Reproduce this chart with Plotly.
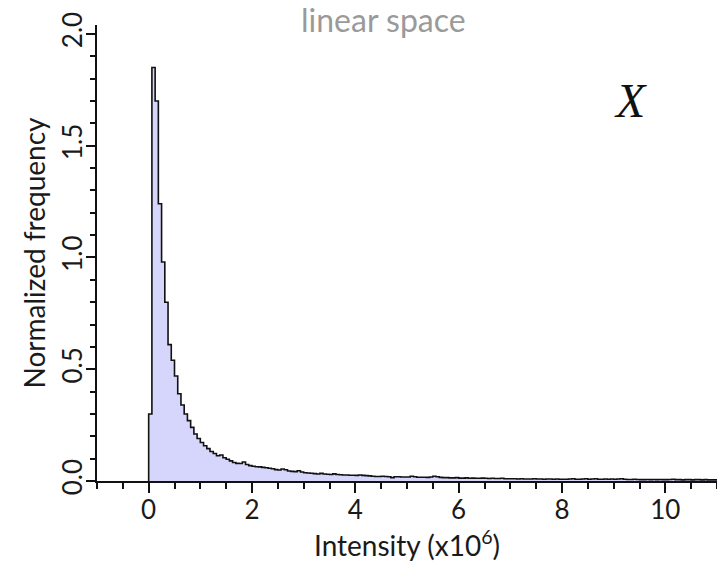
import plotly.graph_objects as go

# Histogram of intensities (units of 1e6), normalized frequency per bin
bin_start = 0.0
bin_width = 0.0625
freq = [
    0.30, 1.85, 1.70, 1.24, 0.98, 0.80, 0.61, 0.54, 0.47, 0.39,
    0.34, 0.30, 0.27, 0.24, 0.21, 0.19, 0.172, 0.158, 0.145, 0.132,
    0.123, 0.113, 0.116, 0.104, 0.097, 0.090, 0.083, 0.079, 0.078, 0.085,
    0.074, 0.069, 0.066, 0.064, 0.063, 0.061, 0.059, 0.057, 0.055, 0.051,
    0.049, 0.054, 0.050, 0.045, 0.043, 0.042, 0.046, 0.040, 0.037, 0.036,
    0.035, 0.033, 0.031, 0.034, 0.031, 0.030, 0.029, 0.032, 0.029, 0.028,
    0.027, 0.027, 0.026, 0.026, 0.025, 0.027, 0.025, 0.024, 0.023, 0.021,
    0.020, 0.020, 0.021, 0.020, 0.019, 0.015, 0.019, 0.019, 0.018, 0.018,
    0.018, 0.021, 0.019, 0.017, 0.017, 0.017, 0.016, 0.018, 0.021, 0.019,
    0.016, 0.015, 0.015, 0.014, 0.014, 0.015, 0.013, 0.013, 0.014, 0.012,
    0.013, 0.012, 0.012, 0.013, 0.012, 0.011, 0.012, 0.011, 0.011, 0.012,
    0.010, 0.010, 0.010, 0.010, 0.009, 0.010, 0.009, 0.009, 0.009, 0.010,
    0.009, 0.009, 0.008, 0.009, 0.009, 0.008, 0.009, 0.008, 0.008, 0.008,
    0.009, 0.010, 0.008, 0.008, 0.009, 0.010, 0.008, 0.009, 0.010, 0.008,
    0.008, 0.009, 0.008, 0.009, 0.008, 0.009, 0.010, 0.008, 0.007, 0.007,
    0.008, 0.007, 0.006, 0.006, 0.007, 0.006, 0.007, 0.006, 0.007, 0.006,
    0.006, 0.007, 0.008, 0.006, 0.006, 0.005, 0.006, 0.006, 0.005, 0.006,
    0.006, 0.005, 0.006, 0.005, 0.005, 0.005,
]

x_tick_vals = [0, 2, 4, 6, 8, 10]
y_tick_vals = [0.0, 0.5, 1.0, 1.5, 2.0]
y_tick_text = ["0.0", "0.5", "1.0", "1.5", "2.0"]

# step outline: left edge of each bin, plus the closing right edge
edges = [bin_start + i * bin_width for i in range(len(freq) + 1)]
step_x = [bin_start] + edges
step_y = [0.0] + freq + [freq[-1]]

font_family = "Lato, Open Sans, sans-serif"

fig = go.Figure()
fig.add_trace(go.Scatter(
    x=step_x, y=step_y,
    mode="lines",
    line=dict(shape="hv", color="#111111", width=1.6),
    fill="tozeroy",
    fillcolor="#d6d6fd",
    hoverinfo="skip",
    showlegend=False,
))

fig.update_layout(
    width=717, height=569,
    margin=dict(l=97, r=0, t=25, b=88),
    paper_bgcolor="white",
    plot_bgcolor="white",
    font=dict(family=font_family, color="#1a1a1a", size=26),
    annotations=[
        # panel heading above the plot area
        dict(
            text="linear space", xref="paper", yref="paper",
            x=(383 - 97) / 620, y=(481 - 20) / 456,
            xanchor="center", yanchor="middle", showarrow=False,
            font=dict(family=font_family, size=32, color="#9a9a9a"),
        ),
        dict(
            text="<i>X</i>", xref="paper", yref="paper",
            x=0.86, y=0.835, xanchor="center", yanchor="middle",
            showarrow=False,
            font=dict(family="Liberation Serif, serif", size=48, color="#111111"),
        ),
    ],
)

fig.update_xaxes(
    range=[-1, 11],
    showgrid=False, zeroline=False,
    showline=True, linecolor="#111111", linewidth=1.5,
    ticks="outside", ticklen=10, tickwidth=1.5, tickcolor="#111111",
    tickvals=x_tick_vals,
    tickfont=dict(size=26),
    ticklabelstandoff=-5,
    minor=dict(dtick=0.5, tick0=0, ticks="outside", ticklen=6,
               tickwidth=1.5, tickcolor="#111111"),
    title=dict(text="Intensity (x10<sup>6</sup>)", font=dict(size=28), standoff=0),
)
fig.update_yaxes(
    range=[0, 2.04],
    showgrid=False, zeroline=False,
    showline=True, linecolor="#111111", linewidth=1.5,
    ticks="outside", ticklen=9, tickwidth=1.5, tickcolor="#111111",
    tickvals=y_tick_vals, ticktext=y_tick_text,
    tickangle=-90,
    tickfont=dict(size=26),
    ticklabelstandoff=-6,
    minor=dict(dtick=0.1, tick0=0, ticks="outside", ticklen=5,
               tickwidth=1.5, tickcolor="#111111"),
    title=dict(text="Normalized frequency", font=dict(size=28), standoff=2),
)

fig.write_html("out.html")
